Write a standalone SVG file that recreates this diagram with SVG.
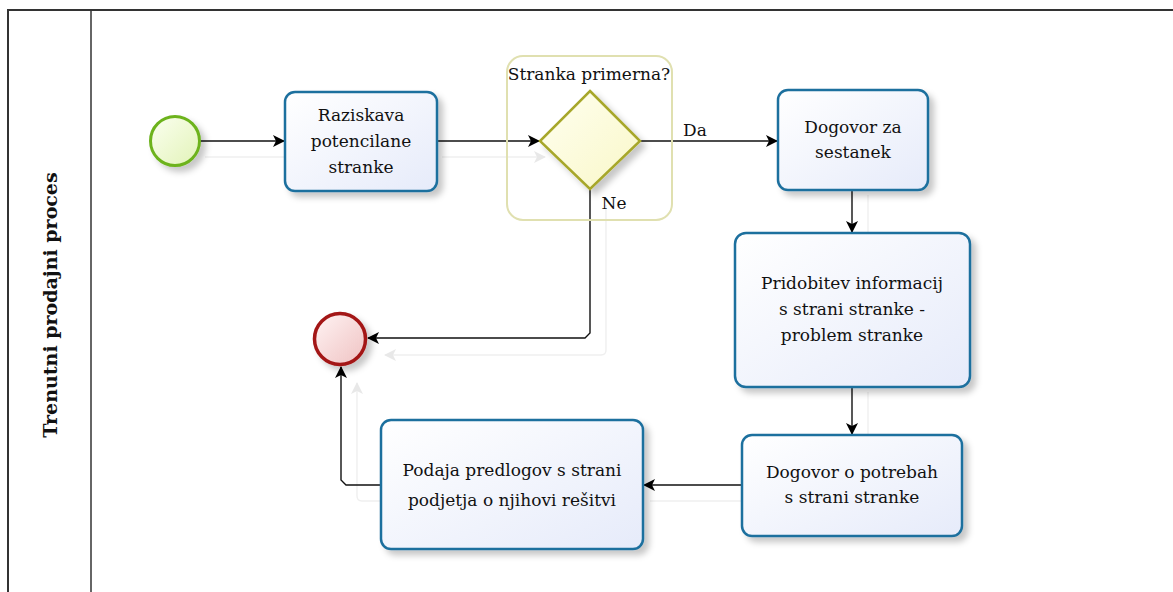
<svg xmlns="http://www.w3.org/2000/svg" width="1173" height="592" viewBox="0 0 1173 592">
<defs>
<linearGradient id="taskG" x1="0" y1="0" x2="1" y2="1"><stop offset="0" stop-color="#ffffff"/><stop offset="1" stop-color="#e6ebfa"/></linearGradient>
<linearGradient id="startG" x1="0" y1="0" x2="1" y2="1"><stop offset="0" stop-color="#fbfff0"/><stop offset="1" stop-color="#e2f3b8"/></linearGradient>
<linearGradient id="endG" x1="0" y1="0" x2="1" y2="1"><stop offset="0" stop-color="#fff4f4"/><stop offset="1" stop-color="#efc2c2"/></linearGradient>
<linearGradient id="gwG" x1="0" y1="0" x2="1" y2="1"><stop offset="0" stop-color="#fffff0"/><stop offset="1" stop-color="#f9f7c8"/></linearGradient>
<filter id="sh" x="-20%" y="-20%" width="150%" height="150%"><feDropShadow dx="5" dy="5" stdDeviation="3" flood-color="#000" flood-opacity="0.22"/></filter>
<marker id="arr" viewBox="0 0 12 12" refX="11" refY="6" markerWidth="12" markerHeight="12" markerUnits="userSpaceOnUse" orient="auto"><path d="M0,0 L12,6 L0,12 L3,6 Z" fill="#000"/></marker>
<marker id="arrL" viewBox="0 0 12 12" refX="11" refY="6" markerWidth="12" markerHeight="12" markerUnits="userSpaceOnUse" orient="auto"><path d="M0,0 L12,6 L0,12 L3,6 Z" fill="#e8e8e8"/></marker>
</defs>
<style>
.task{fill:url(#taskG);stroke:#1f6f9e;stroke-width:2.5;filter:url(#sh)}
.t{font-family:"DejaVu Serif","Liberation Serif",serif;font-size:17px;fill:#111;text-anchor:middle}
.c{fill:none;stroke:#111;stroke-width:1.4;marker-end:url(#arr)}
.s{fill:none;stroke:#efefef;stroke-width:1.4}
</style>
<rect width="1173" height="592" fill="#fff"/>
<g id="pool">
<path d="M8,592 V10 H1173" fill="none" stroke="#333" stroke-width="2"/>
<line x1="91" y1="10" x2="91" y2="592" stroke="#333" stroke-width="1.5"/>
<text x="0" y="0" transform="translate(57,305) rotate(-90)" class="t" style="font-weight:bold;font-size:19px">Trenutni prodajni proces</text>
</g>
<g id="shadows">
<path class="s" d="M205,157 H285"/>
<path class="s" d="M442,157 H545" marker-end="url(#arrL)"/>
<path class="s" d="M606,205 V350 Q606,355 601,355 H385" marker-end="url(#arrL)"/>
<path class="s" d="M868,195 V233"/>
<path class="s" d="M868,392 V435"/>
<path class="s" d="M742,501 H650"/>
<path class="s" d="M381,501 H362 Q357,501 357,496 V383" marker-end="url(#arrL)"/>
</g>
<g id="connectors">
<path class="c" d="M200,141 H284"/>
<path class="c" d="M437,141 H539"/>
<path class="c" d="M640,141 H777"/>
<text class="t" x="695" y="136">Da</text>
<path class="c" d="M590,189 V333 L585,338 H368"/>
<text class="t" x="614" y="209">Ne</text>
<path class="c" d="M852,190 V232"/>
<path class="c" d="M852,387 V434"/>
<path class="c" d="M742,485 H644"/>
<path class="c" d="M381,485 H346 L341,480 V367"/>
</g>
<g id="start">
<circle cx="175" cy="141" r="24.5" fill="url(#startG)" stroke="#6db31f" stroke-width="3" filter="url(#sh)"/>
</g>
<g id="task1">
<rect class="task" x="285" y="92" width="152" height="99" rx="10"/>
<text class="t" x="361" y="121">Raziskava</text>
<text class="t" x="361" y="147">potencilane</text>
<text class="t" x="361" y="173">stranke</text>
</g>
<g id="gateway">
<rect x="507" y="56" width="165" height="164" rx="16" fill="none" stroke="#e0e0b0" stroke-width="2"/>
<path d="M590,91 L640,141 L590,189 L540,141 Z" fill="url(#gwG)" stroke="#a7a72c" stroke-width="2.5" filter="url(#sh)"/>
<text class="t" x="589" y="80">Stranka primerna?</text>
</g>
<g id="task2">
<rect class="task" x="778" y="90" width="150" height="100" rx="10"/>
<text class="t" x="853" y="133">Dogovor za</text>
<text class="t" x="853" y="158">sestanek</text>
</g>
<g id="task3">
<rect class="task" x="735" y="233" width="235" height="154" rx="11"/>
<text class="t" x="852" y="289">Pridobitev informacij</text>
<text class="t" x="852" y="315">s strani stranke -</text>
<text class="t" x="852" y="341">problem stranke</text>
</g>
<g id="task4">
<rect class="task" x="742" y="435" width="220" height="101" rx="10"/>
<text class="t" x="852" y="478">Dogovor o potrebah</text>
<text class="t" x="852" y="503">s strani stranke</text>
</g>
<g id="task5">
<rect class="task" x="381" y="420" width="262" height="129" rx="10"/>
<text class="t" x="512" y="476">Podaja predlogov s strani</text>
<text class="t" x="512" y="506">podjetja o njihovi rešitvi</text>
</g>
<g id="end">
<circle cx="340" cy="339" r="25.5" fill="url(#endG)" stroke="#a31515" stroke-width="3.5" filter="url(#sh)"/>
</g>
</svg>
